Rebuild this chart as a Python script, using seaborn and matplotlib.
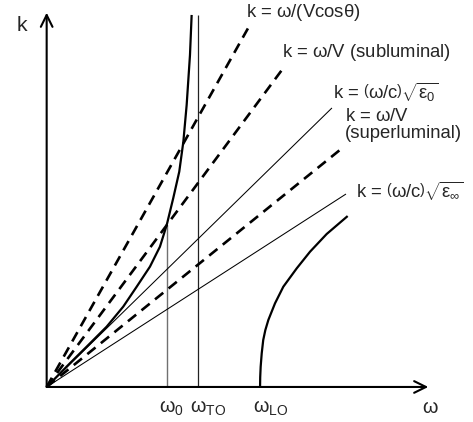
import matplotlib
matplotlib.use("Agg")
import matplotlib.pyplot as plt
import seaborn as sns

# ---- data (frequency in units of omega_TO, wavevector in matching units) ----
w0 = 0.799          # omega_0
w_to = 1.0          # omega_TO
w_lo = 1.413        # omega_LO
k_w0_top = 1.073    # where the omega_0 marker meets the lower branch
k_to_top = 2.464    # top of the omega_TO marker

# straight dispersion lines through the origin: end points (omega, k)
line_names = ["vcos", "sub", "eps0", "super", "epsinf"]
line_end_w = [1.353, 1.572, 1.889, 1.942, 1.982]
line_end_k = [2.411, 2.119, 1.848, 1.570, 1.278]
line_dashed = [True, True, False, True, False]

# lower polariton branch
lower_w = [0.0, 0.154, 0.265, 0.397, 0.507, 0.596, 0.684, 0.750, 0.795,
           0.838, 0.878, 0.905, 0.927, 0.949, 0.960]
lower_k = [0.0, 0.157, 0.267, 0.399, 0.532, 0.664, 0.797, 0.929, 1.073,
           1.250, 1.426, 1.624, 1.868, 2.199, 2.464]

# upper polariton branch
upper_w = [1.413, 1.414, 1.417, 1.424, 1.434, 1.448, 1.468, 1.512, 1.567,
           1.656, 1.744, 1.854, 1.993]
upper_k = [0.0, 0.065, 0.134, 0.223, 0.311, 0.377, 0.444, 0.554, 0.664,
           0.786, 0.896, 1.013, 1.132]

line_labels = [
    r"k = $\omega$/(Vcos$\theta$)",
    r"k = $\omega$/V (subluminal)",
    r"k = $\left(\omega/\mathrm{c}\right)\sqrt{\varepsilon_0}$",
    "k = $\\omega$/V\n(superluminal)",
    r"k = $\left(\omega/\mathrm{c}\right)\sqrt{\varepsilon_\infty}$",
]
tick_labels = [r"$\omega_0$", r"$\omega_{\mathrm{TO}}$", r"$\omega_{\mathrm{LO}}$"]

# ---- style ----
sns.set_theme(style="white")
plt.rcParams["font.family"] = ["Liberation Sans", "DejaVu Sans"]
plt.rcParams["mathtext.fontset"] = "custom"
plt.rcParams["mathtext.rm"] = "Liberation Sans"
plt.rcParams["mathtext.it"] = "Liberation Sans"
plt.rcParams["mathtext.bf"] = "Liberation Sans:bold"

fig = plt.figure(figsize=(4.73, 4.22), dpi=100)
ax = fig.add_axes([0, 0, 1, 1])
ax.set_xlim(-0.309, 2.823)
ax.set_ylim(-0.232, 2.563)
ax.axis("off")

# axes with open arrow heads
arrow = dict(arrowstyle="->,head_length=0.85,head_width=0.42", lw=1.5,
             color="black", shrinkA=0, shrinkB=0, mutation_scale=10)
ax.annotate("", xy=(2.527, 0), xytext=(0, 0), arrowprops=arrow)
ax.annotate("", xy=(0, 2.479), xytext=(0, 0), arrowprops=arrow)

raw = dict(sort=False, estimator=None)

# frequency markers
sns.lineplot(x=[w0, w0], y=[0, k_w0_top], ax=ax, color="#707070", lw=1.0, **raw)
sns.lineplot(x=[w_to, w_to], y=[0, k_to_top], ax=ax, color="#222222", lw=0.9,
             **raw)

# light / Cherenkov lines
for we, ke, dashed in zip(line_end_w, line_end_k, line_dashed):
    if dashed:
        sns.lineplot(x=[0, we], y=[0, ke], ax=ax, color="black", lw=1.9,
                     linestyle=(0, (4, 2.6)), **raw)
    else:
        sns.lineplot(x=[0, we], y=[0, ke], ax=ax, color="black", lw=0.75,
                     **raw)

# polariton branches
sns.lineplot(x=lower_w, y=lower_k, ax=ax, color="black", lw=1.6, **raw)
sns.lineplot(x=upper_w, y=upper_k, ax=ax, color="black", lw=1.6, **raw)

# labels
fs = 13.3
label_pos = [(1.318, 2.452), (1.556, 2.187), (1.893, 1.905),
             (1.975, 1.647), (2.048, 1.250)]
for (tx, ty), txt in zip(label_pos, line_labels):
    ax.text(tx, ty, txt, fontsize=fs, ha="left", va="baseline",
            linespacing=1.0)

for xpos, txt in zip([0.823, 1.068, 1.482], tick_labels):
    ax.text(xpos, -0.172, txt, fontsize=fs + 1, ha="center", va="baseline")
ax.text(2.538, -0.172, r"$\omega$", fontsize=fs + 1, ha="center", va="baseline")
ax.text(-0.199, 2.360, "k", fontsize=fs + 2, ha="left", va="baseline")

for l in ax.lines:
    l.set_solid_capstyle("butt")
    l.set_dash_capstyle("butt")

fig.savefig("out.png", dpi=100)
